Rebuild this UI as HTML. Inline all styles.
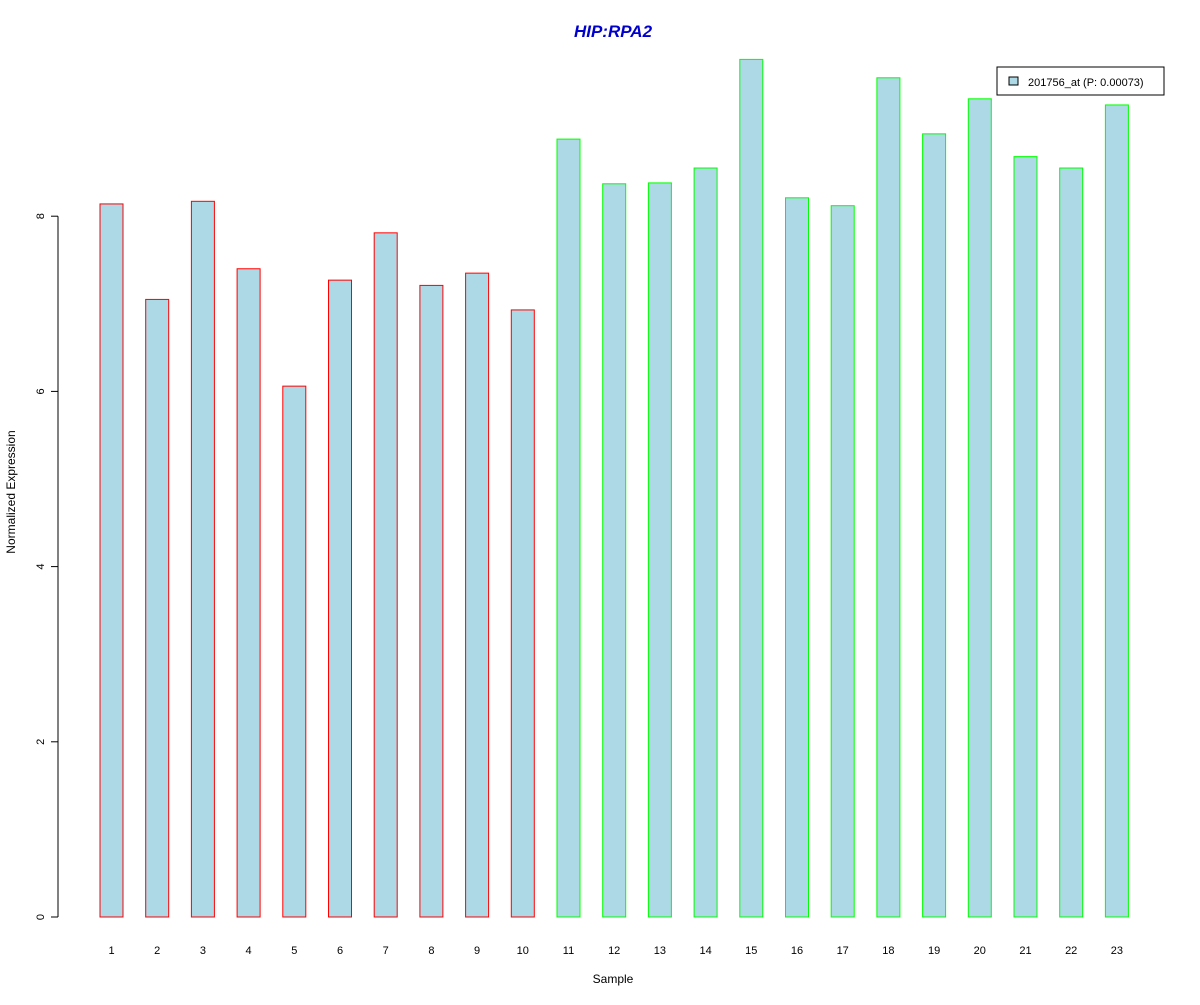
<!DOCTYPE html>
<html><head><meta charset="utf-8"><style>
body{margin:0;background:#fff;}
svg text{font-family:"Liberation Sans",Arial,sans-serif;}
</style></head><body>
<svg id="chart" width="1200" height="1000" xmlns="http://www.w3.org/2000/svg">
<rect width="1200" height="1000" fill="#fff"/>
<text x="613" y="37" text-anchor="middle" font-size="17" font-weight="bold" font-style="italic" fill="#0000cc">HIP:RPA2</text>
<g id="yaxis"></g>
<g id="bars"></g>
<g id="xlabels"></g>
<text x="613" y="983" text-anchor="middle" font-size="12">Sample</text>
<text transform="translate(15,492) rotate(-90)" text-anchor="middle" font-size="12">Normalized Expression</text>
<g>
<rect x="997" y="67" width="167" height="28" fill="#fff" stroke="#000"/>
<rect x="1009" y="77" width="9" height="8" fill="#add8e6" stroke="#000"/>
<text x="1028" y="86" font-size="11">201756_at (P: 0.00073)</text>
</g>
</svg>
<script>
const categories=["1","2","3","4","5","6","7","8","9","10","11","12","13","14","15","16","17","18","19","20","21","22","23"];
const values=[8.14,7.05,8.17,7.40,6.06,7.27,7.81,7.21,7.35,6.93,8.88,8.37,8.38,8.55,9.79,8.21,8.12,9.58,8.94,9.34,8.68,8.55,9.27];
const groups=["red","red","red","red","red","red","red","red","red","red","lime","lime","lime","lime","lime","lime","lime","lime","lime","lime","lime","lime","lime"];
const yTicks=[0,2,4,6,8];
const NS="http://www.w3.org/2000/svg";
const y0=917,pxPerUnit=87.6;
function yScale(v){return y0-v*pxPerUnit;}
const x0=111.5,step=45.7,bw=23;
function xScale(i){return x0+i*step;}
const ya=document.getElementById('yaxis');
let ax=document.createElementNS(NS,'line');


ax.setAttribute('x1',58);ax.setAttribute('x2',58);
ax.setAttribute('y1',yScale(yTicks[0]));ax.setAttribute('y2',yScale(yTicks[yTicks.length-1]));
ax.setAttribute('stroke','#000');ya.appendChild(ax);
yTicks.forEach(t=>{
 const y=yScale(t);
 const l=document.createElementNS(NS,'line');
 
 
 l.setAttribute('x1',51);l.setAttribute('x2',58);l.setAttribute('y1',y);l.setAttribute('y2',y);l.setAttribute('stroke','#000');
 ya.appendChild(l);
 const tx=document.createElementNS(NS,'text');
 
 
 tx.setAttribute('transform','translate(44,'+y+') rotate(-90)');
 tx.setAttribute('text-anchor','middle');tx.setAttribute('font-size','11');
 tx.textContent=t;ya.appendChild(tx);
});
const bg=document.getElementById('bars'),xl=document.getElementById('xlabels');
values.forEach((v,i)=>{
 const r=document.createElementNS(NS,'rect');
 
 
 const cx=xScale(i);
 r.setAttribute('x',cx-bw/2);r.setAttribute('width',bw);
 r.setAttribute('y',yScale(v));r.setAttribute('height',yScale(0)-yScale(v));
 r.setAttribute('fill','#add8e6');r.setAttribute('stroke',groups[i]);
 bg.appendChild(r);
 const t=document.createElementNS(NS,'text');
 
 
 t.setAttribute('x',cx);t.setAttribute('y',954);t.setAttribute('text-anchor','middle');t.setAttribute('font-size','11');
 t.textContent=categories[i];xl.appendChild(t);
});
</script>
</body></html>
